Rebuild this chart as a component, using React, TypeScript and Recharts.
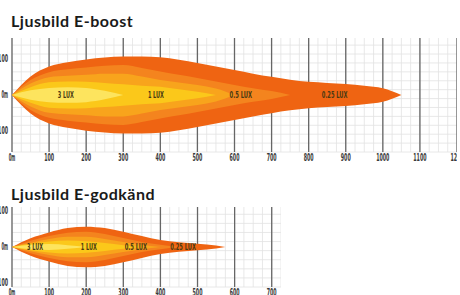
import React from 'react';
import { ComposedChart, Area, Scatter, XAxis, YAxis, CartesianGrid } from 'recharts';

// distance along the beam (m) and half-width of each isolux contour (m)
const boostX = [0, 50, 100, 150, 200, 250, 300, 350, 400, 450, 500, 550, 600, 650, 700, 750, 800, 850, 900, 950, 1000, 1050];
const boostL1 = [0, 52, 80, 92, 100, 105, 108, 108, 106, 99, 90, 80, 70, 60, 51, 43, 37, 34, 31, 26, 19, 0];
const boostL2 = [0, 42, 64, 72, 77, 82, 84, 76, 66, 57, 48, 38, 28, 19, 11, 0, null, null, null, null, null, null];
const boostL3 = [0, 32, 50, 54, 57, 60, 60, 52, 42, 35, 28, 18, 0, null, null, null, null, null, null, null, null, null];
const boostL4 = [0, 22, 36, 38, 37, 34, 30, 26, 23, 16, 9, 0, null, null, null, null, null, null, null, null, null, null];
const boostL5 = [0, 13, 20, 22, 20, 12, 0, null, null, null, null, null, null, null, null, null, null, null, null, null, null, null];

const godkX = [0, 50, 100, 150, 200, 250, 300, 350, 400, 450, 500, 550, 575];
const godkL1 = [0, 24, 40, 52, 56, 52, 42, 30, 19, 13, 9, 4, 0];
const godkL2 = [0, 17, 30, 39, 42, 36, 25, 14, 6, 0, null, null, null];
const godkL3 = [0, 12, 22, 28, 28, 22, 14, 6, 0, null, null, null, null];
const godkL4 = [0, 9, 15, 18, 16, 11, 5, 0, null, null, null, null, null];
const godkL5 = [0, 6, 8, 5, 0, null, null, null, null, null, null, null, null];

const luxLabels = ['3 LUX', '1 LUX', '0.5 LUX', '0.25 LUX'];
const boostLabelX = [145, 388, 617, 870];
const godkLabelX = [62, 207, 334, 461];

const boostTicks = [0, 100, 200, 300, 400, 500, 600, 700, 800, 900, 1000, 1100, 1200];
const godkTicks = [0, 100, 200, 300, 400, 500, 600, 700];
const yTicks = [-100, 0, 100];

const COLORS = ['#EF6412', '#F4841E', '#F8A41C', '#FBC81A', '#FDE45E'];

function range(from: number, to: number, step: number) {
  const out: number[] = [];
  for (let v = from; v <= to + 0.001; v += step) out.push(v);
  return out;
}

const XTick = (props: any) => {
  const { x, y, payload } = props;
  const t = payload.value === 0 ? '0m' : String(payload.value);
  return (
    <text x={x} y={y + 1} textAnchor="middle" fontSize={10} fontWeight={700}
      fontFamily="DejaVu Sans Condensed" fill="#3a3a3a"
      textLength={t.length * 3.3} lengthAdjust="spacingAndGlyphs">{t}</text>
  );
};

const YTick = (props: any) => {
  const { y, payload } = props;
  const t = payload.value === 0 ? '0m' : String(Math.abs(payload.value));
  return (
    <text x={8} y={y + 3} textAnchor="end" fontSize={10} fontWeight={700}
      fontFamily="DejaVu Sans Condensed" fill="#3a3a3a"
      textLength={t.length * 3.3} lengthAdjust="spacingAndGlyphs">{t}</text>
  );
};

const LuxText = (props: any) => {
  const { cx, cy, payload } = props;
  const t = payload.text;
  return (
    <text x={cx} y={cy + 3} textAnchor="middle" fontSize={9} fontWeight={700}
      fontFamily="DejaVu Sans Condensed" fill="#4a3a12"
      textLength={t.length * 3.2} lengthAdjust="spacingAndGlyphs">{t}</text>
  );
};

type BeamProps = {
  xs: number[];
  layers: (number | null)[][];
  labelX: number[];
  ticks: number[];
  xMax: number;
  yMax: number;
  width: number;
  height: number;
  top: number;
};

function Beam({ xs, layers, labelX, ticks, xMax, yMax, width, height, top }: BeamProps) {
  const rows = xs.map((x, i) => {
    const r: any = { x };
    layers.forEach((l, k) => {
      r['l' + k] = l[i] == null ? null : [-(l[i] as number), l[i]];
    });
    return r;
  });
  const labels = labelX.map((x, i) => ({ x, y: 0, text: luxLabels[i] }));
  return (
    <ComposedChart width={width} height={height} data={rows}
      margin={{ top, right: 0, bottom: 4, left: 0 }}>
      <CartesianGrid stroke="#e2e2e2" strokeWidth={0.8}
        verticalValues={range(0, xMax, 25)} horizontalValues={range(-yMax, yMax, 25)} />
      <CartesianGrid stroke="#666" strokeWidth={1.3} horizontal={false}
        verticalValues={ticks} />
      <XAxis dataKey="x" type="number" domain={[0, xMax]} ticks={ticks}
        axisLine={false} tickLine={false} tick={<XTick />} height={14} interval={0} />
      <YAxis type="number" domain={[-yMax, yMax]} ticks={yTicks} width={12}
        axisLine={false} tickLine={false} tick={<YTick />} interval={0} />
      {layers.map((_, k) => (
        <Area key={k} dataKey={'l' + k} type="monotone" stroke="none"
          fill={COLORS[k]} fillOpacity={1} isAnimationActive={false} />
      ))}
      <Scatter data={labels} dataKey="y" shape={<LuxText />} isAnimationActive={false} />
    </ComposedChart>
  );
}

const titleStyle: React.CSSProperties = {
  position: 'absolute', left: 11, fontFamily: 'Lato', fontWeight: 700,
  fontSize: 16, letterSpacing: 0.5, color: '#1a1a1a', lineHeight: '16px', whiteSpace: 'nowrap',
};

export default function App() {
  return (
    <div style={{ position: 'absolute', left: 0, top: 0, width: 460, height: 295, overflow: 'hidden', background: '#fff' }}>
      <div style={{ ...titleStyle, top: 13 }}>Ljusbild E-boost</div>
      <div style={{ position: 'absolute', left: 0, top: 0 }}>
        <Beam xs={boostX} layers={[boostL1, boostL2, boostL3, boostL4, boostL5]}
          labelX={boostLabelX} ticks={boostTicks} xMax={1200} yMax={160}
          width={457} height={170} top={38} />
      </div>
      <div style={{ ...titleStyle, top: 186 }}>Ljusbild E-godkänd</div>
      <div style={{ position: 'absolute', left: 0, top: 170 }}>
        <Beam xs={godkX} layers={[godkL1, godkL2, godkL3, godkL4, godkL5]}
          labelX={godkLabelX} ticks={godkTicks} xMax={725} yMax={110}
          width={281} height={135} top={37} />
      </div>
    </div>
  );
}
